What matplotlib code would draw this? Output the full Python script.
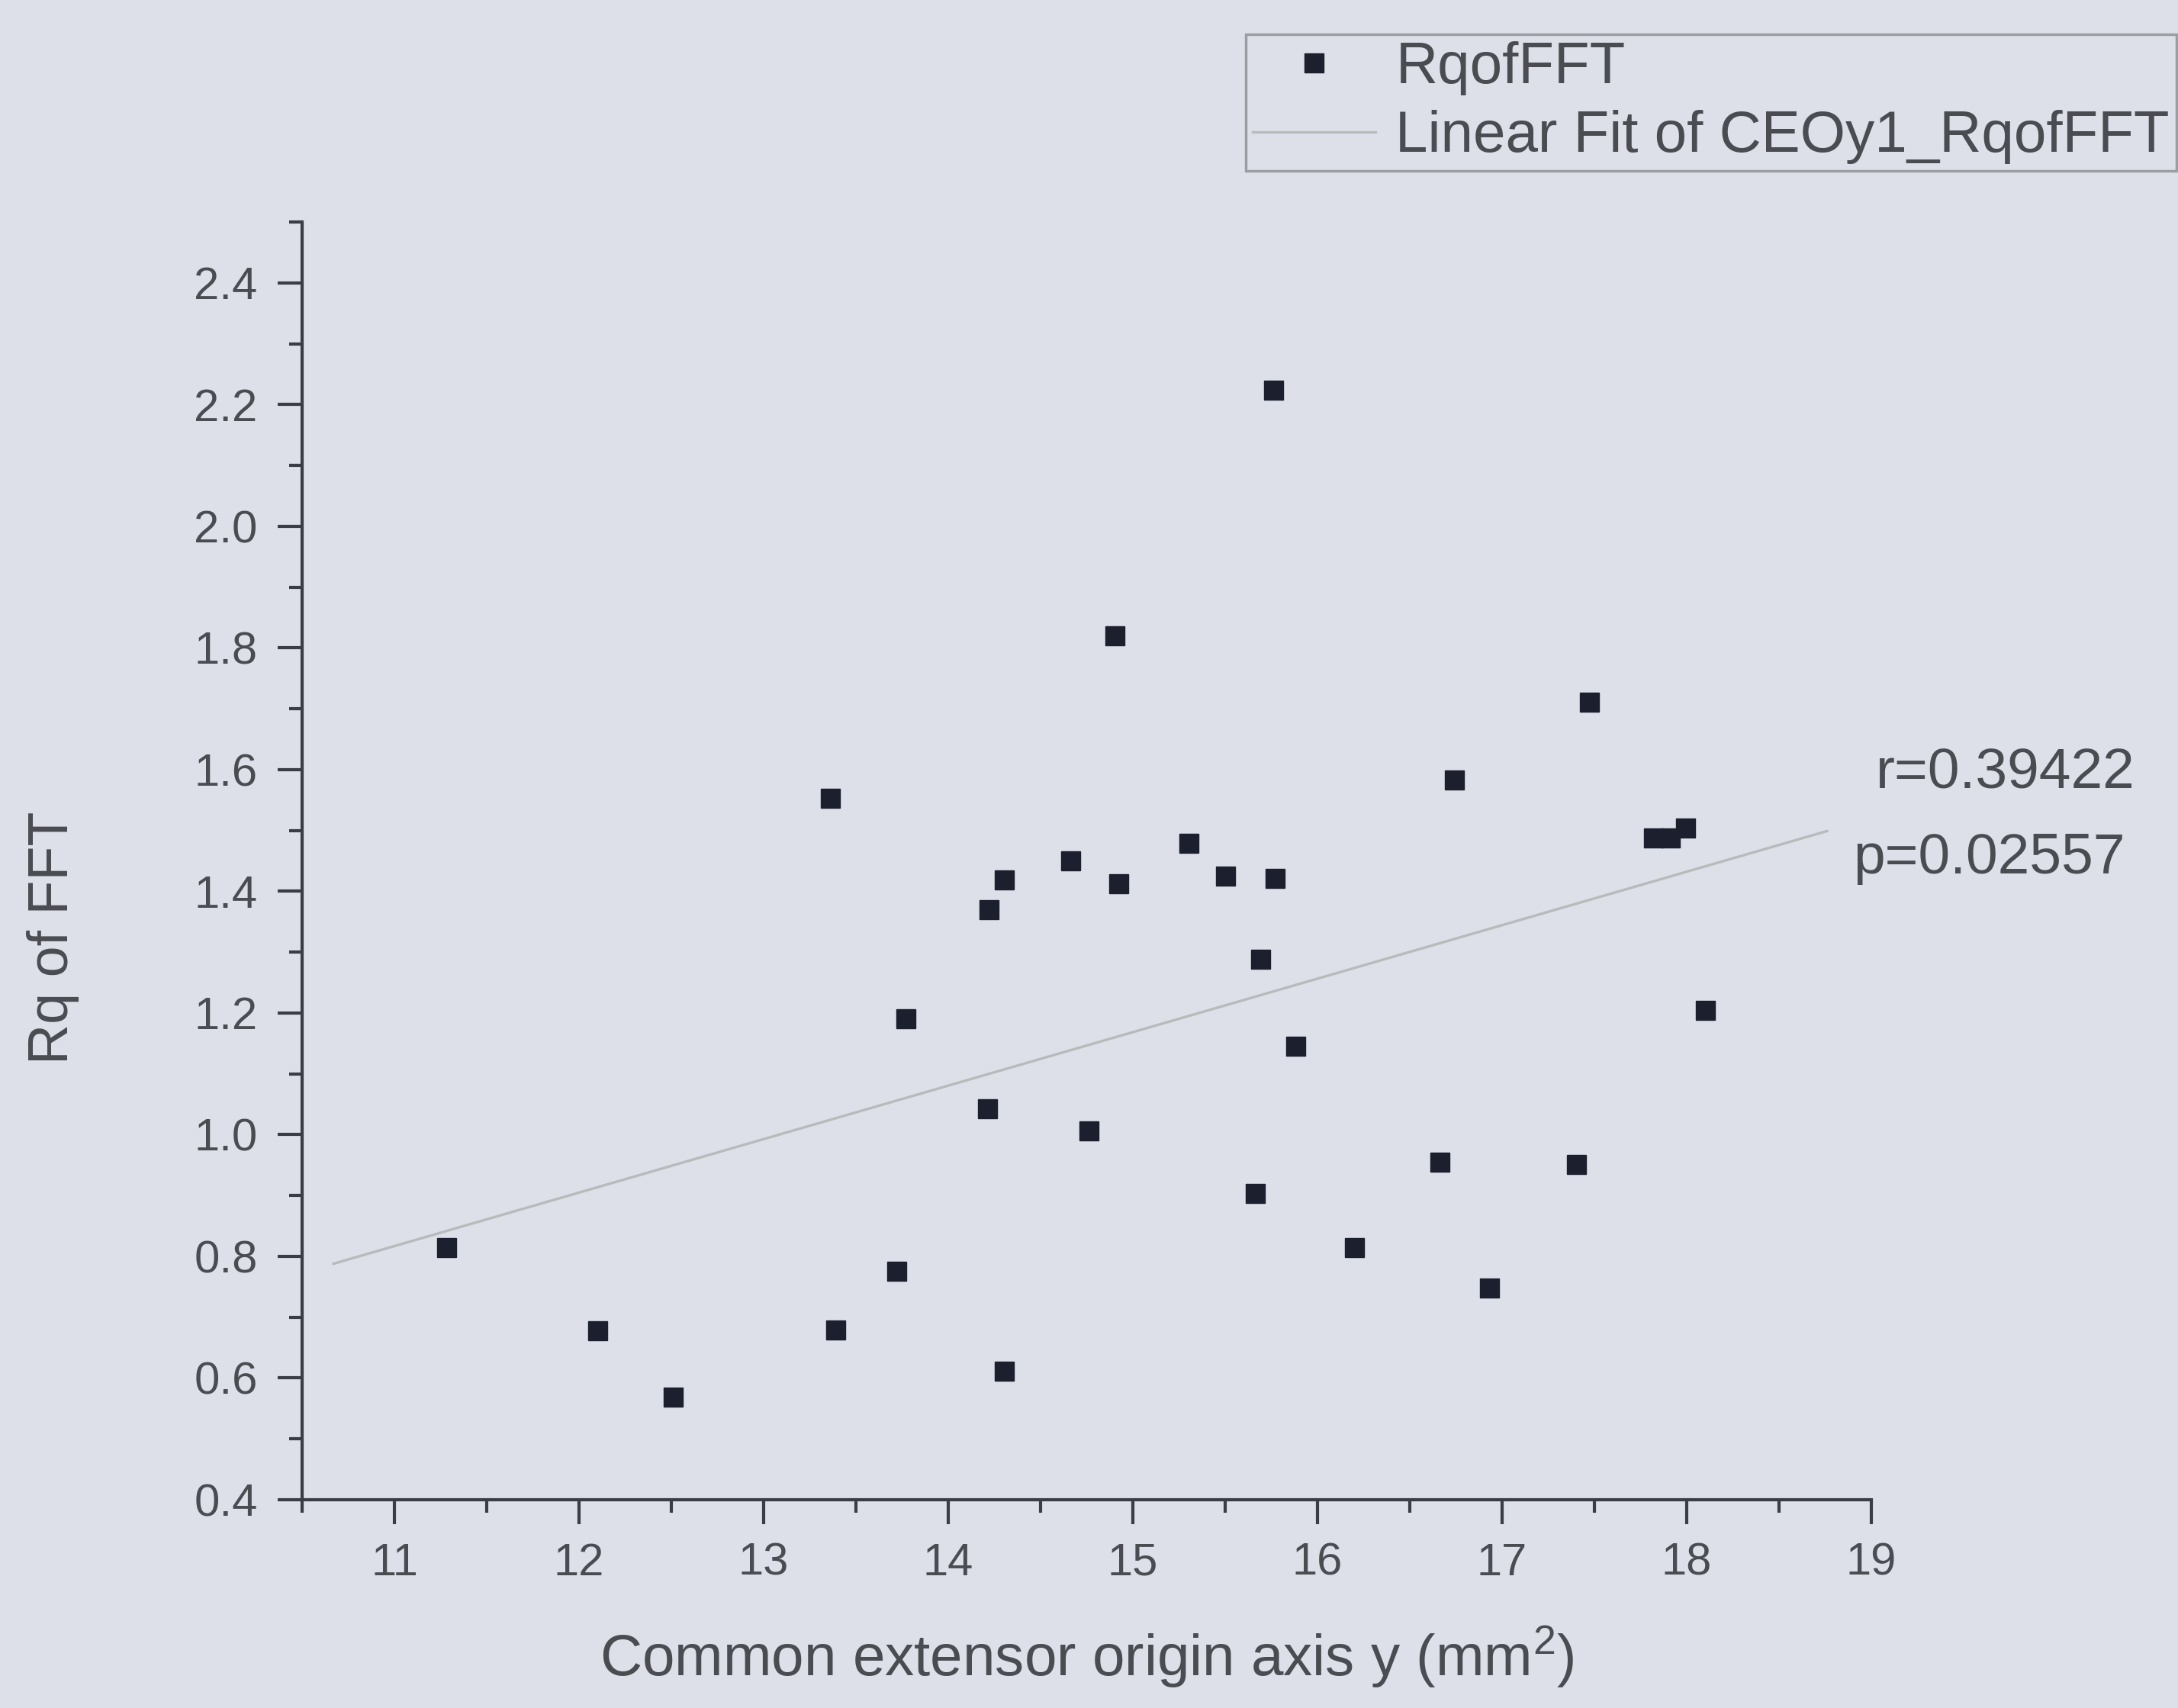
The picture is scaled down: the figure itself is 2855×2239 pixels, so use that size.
import matplotlib
matplotlib.use("Agg")
import matplotlib.pyplot as plt
import numpy as np
from matplotlib.ticker import MultipleLocator
from matplotlib.lines import Line2D

# ---- data ----
x_vals = [11.28, 12.10, 12.51, 13.36, 13.39, 13.72, 13.77, 14.22, 14.21, 14.30,
          14.30, 14.66, 14.76, 14.90, 14.92, 15.30, 15.50, 15.66, 15.69, 15.76,
          15.77, 15.88, 16.20, 16.66, 16.74, 16.93, 17.40, 17.47, 17.82, 17.91,
          17.99, 18.10]
y_vals = [0.815, 0.678, 0.569, 1.554, 0.680, 0.776, 1.191, 1.371, 1.043, 1.419,
          0.612, 1.451, 1.007, 1.821, 1.413, 1.479, 1.426, 0.904, 1.289, 2.224,
          1.422, 1.146, 0.815, 0.956, 1.584, 0.749, 0.952, 1.711, 1.488, 1.488,
          1.504, 1.205]
fit_slope = 0.0879
fit_intercept = -0.150
fit_x_range = [10.67, 18.76]
x_ticks = [11, 12, 13, 14, 15, 16, 17, 18, 19]
y_ticks = [0.4, 0.6, 0.8, 1.0, 1.2, 1.4, 1.6, 1.8, 2.0, 2.2, 2.4]
series_label = "RqofFFT"
fit_label = "Linear Fit of CEOy1_RqofFFT"
r_text = "r=0.39422"
p_text = "p=0.02557"
x_label = r"Common extensor origin axis y (mm$^{2}$)"
y_label = "Rq of FFT"

BG = "#dde0e8"
AX = "#3a3d45"
TXT = "#4a4c52"
MK = "#1b1f2e"
FIT = "#b8babc"

plt.rcParams['font.family'] = ['Liberation Sans', 'DejaVu Sans']
plt.rcParams['mathtext.fontset'] = 'custom'
plt.rcParams['mathtext.rm'] = 'Liberation Sans'
plt.rcParams['mathtext.it'] = 'Liberation Sans'
plt.rcParams['mathtext.default'] = 'regular'

W, H = 2855, 2239
fig = plt.figure(figsize=(W / 100, H / 100), dpi=100, facecolor=BG)
left, right, bottom, top = 396, 2453, 1966, 291
ax = fig.add_axes([left / W, 1 - bottom / H, (right - left) / W, (bottom - top) / H])
ax.set_facecolor(BG)

ax.set_xlim(10.5, 19)
ax.set_ylim(0.4, 2.5)

fx = np.array(fit_x_range)
ax.plot(fx, fit_intercept + fit_slope * fx, color=FIT, lw=2.4, zorder=2)
ax.plot(x_vals, y_vals, linestyle="none", marker="s", markersize=18,
        color=MK, zorder=3)

for s in ["top", "right"]:
    ax.spines[s].set_visible(False)
for s in ["left", "bottom"]:
    ax.spines[s].set_color(AX)
    ax.spines[s].set_linewidth(3)

ax.set_xticks(x_ticks)
ax.set_xticklabels([str(t) for t in x_ticks])
ax.set_yticks(y_ticks)
ax.set_yticklabels([f"{t:.1f}" for t in y_ticks])
ax.xaxis.set_minor_locator(MultipleLocator(0.5))
ax.yaxis.set_minor_locator(MultipleLocator(0.1))
ax.tick_params(axis="both", which="major", direction="out", length=23, width=3,
               color=AX, labelcolor=TXT, labelsize=43)
ax.tick_params(axis="both", which="minor", direction="out", length=12, width=3,
               color=AX)
ax.tick_params(axis="x", which="major", pad=17)
ax.tick_params(axis="y", which="major", pad=19)

ax.set_xlabel(x_label, fontsize=55, color=TXT, labelpad=38)
ax.set_ylabel(y_label, fontsize=53, color=TXT)
ax.yaxis.set_label_coords(-0.142, 0.44)

fig.text(2799 / W, 1 - 1014 / H, r_text, ha="right", va="center", fontsize=54, color=TXT)
fig.text(2786 / W, 1 - 1125 / H, p_text, ha="right", va="center", fontsize=54, color=TXT)

handles = [Line2D([], [], linestyle="none", marker="s", markersize=18, color=MK),
           Line2D([], [], color=FIT, lw=2.4)]
leg = fig.legend(handles, [series_label, fit_label], loc="upper right",
                 bbox_to_anchor=(2853 / W, 1 - 45 / H), borderaxespad=0,
                 fontsize=55, frameon=True, fancybox=False, borderpad=0.12,
                 handlelength=2.1, handletextpad=0.35, labelspacing=0.25)
leg.get_frame().set_facecolor(BG)
leg.get_frame().set_edgecolor("#8a8c90")
leg.get_frame().set_linewidth(2.5)
for t in leg.get_texts():
    t.set_color(TXT)

fig.savefig("out.png", dpi=100, facecolor=BG)
